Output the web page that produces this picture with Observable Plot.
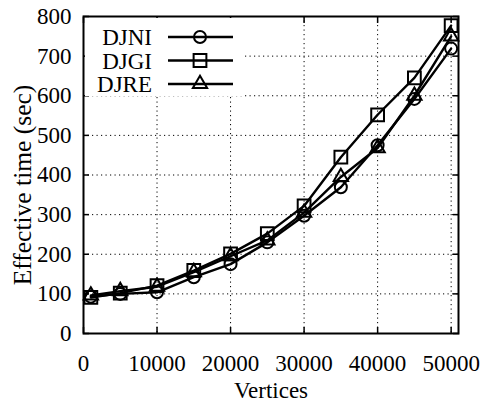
<!DOCTYPE html>
<html><head><meta charset="utf-8">
<script src="https://cdn.jsdelivr.net/npm/d3@7"></script>
<script src="https://cdn.jsdelivr.net/npm/@observablehq/plot@0.6"></script>
<style>
body{margin:0;background:#fff}
svg, svg text{font-family:"Liberation Serif", serif !important}
</style>
</head><body><div id="chart"></div>
<script>
const vertices = [1000, 5000, 10000, 15000, 20000, 25000, 30000, 35000, 40000, 45000, 50000];
const djni = [93, 100, 104, 142, 175, 230, 297, 369, 475, 592, 719];
const djgi = [91, 102, 121, 159, 201, 252, 322, 445, 552, 645, 777];
const djre = [96, 107, 118, 155, 195, 235, 305, 395, 468, 600, 750];
const seriesNames = ["DJNI", "DJGI", "DJRE"];
const seriesSymbols = ["circle", "square", "triangle"];
const xTicks = [0, 10000, 20000, 30000, 40000, 50000];
const yTicks = [0, 100, 200, 300, 400, 500, 600, 700, 800];
const xLabel = "Vertices";
const yLabel = "Effective time (sec)";

const values = [djni, djgi, djre];
const data = [];
seriesNames.forEach((name, s) => {
  vertices.forEach((v, i) => data.push({series: name, x: v, y: values[s][i]}));
});

const symbolR = {circle: 6, square: 7.2, triangle: 5.3};
const fontSize = 23;
const dotMarks = seriesNames.map((name, s) =>
  Plot.dot(data.filter(d => d.series === name), {x: "x", y: "y", symbol: () => seriesSymbols[s], r: symbolR[seriesSymbols[s]], stroke: "black", fill: "none", strokeWidth: 2})
);

const plot = Plot.plot({
  width: 485, height: 403,
  marginLeft: 83, marginRight: 27, marginTop: 16, marginBottom: 70,
  style: {fontSize: fontSize + "px", color: "black", background: "white"},
  x: {domain: [0, 51000], axis: null},
  y: {domain: [0, 800], axis: null},
  symbol: {type: "identity"},
  marks: [
    Plot.gridX(xTicks.filter(d => d > 0), {stroke: "black", strokeOpacity: 1, strokeWidth: 1, strokeDasharray: "1.2,3.3"}),
    Plot.gridY(yTicks.filter(d => d > 0 && d < 800), {stroke: "black", strokeOpacity: 1, strokeWidth: 1, strokeDasharray: "1.2,3.3"}),
    Plot.axisX({anchor: "bottom", ticks: xTicks, tickSize: -6, tickPadding: 27, tickFormat: d => String(d), strokeWidth: 1.5, fontSize: fontSize, label: null}),
    Plot.axisX({anchor: "top", ticks: xTicks, tickSize: -6, tickFormat: () => "", strokeWidth: 1.5, label: null}),
    Plot.axisY({anchor: "left", ticks: yTicks, tickSize: -6, tickPadding: 18, tickFormat: d => String(d), strokeWidth: 1.5, fontSize: fontSize, label: null}),
    Plot.axisY({anchor: "right", ticks: yTicks, tickSize: -6, tickFormat: () => "", strokeWidth: 1.5, label: null}),
    Plot.text([xLabel], {frameAnchor: "bottom", textAnchor: "middle", lineAnchor: "middle", dy: 57, fontSize: fontSize}),
    Plot.text([yLabel], {frameAnchor: "left", textAnchor: "middle", lineAnchor: "middle", rotate: -90, dx: -61, dy: 10, fontSize: 25.5}),
    Plot.line(data, {x: "x", y: "y", z: "series", stroke: "black", strokeWidth: 2.4}),
    ...dotMarks,
    Plot.frame({stroke: "black", strokeWidth: 2})
  ]
});
document.getElementById("chart").appendChild(plot);

// Legend (inside the plot, top-left, white background hides the grid)
const svg = d3.select(plot);
const leg = svg.append("g");
leg.append("rect").attr("x", 85).attr("y", 18).attr("width", 160).attr("height", 78).attr("fill", "white");
const sym = {circle: d3.symbolCircle, square: d3.symbolSquare, triangle: d3.symbolTriangle};
seriesNames.forEach((name, i) => {
  const cy = 37 + i * 23.5;
  const r = symbolR[seriesSymbols[i]];
  leg.append("text").attr("x", 152).attr("y", cy).attr("dy", "0.35em").attr("text-anchor", "end")
    .attr("font-size", fontSize).attr("fill", "black").text(name);
  leg.append("line").attr("x1", 168).attr("x2", 233).attr("y1", cy).attr("y2", cy)
    .attr("stroke", "black").attr("stroke-width", 2.4);
  leg.append("path").attr("transform", `translate(200,${cy})`)
    .attr("d", d3.symbol(sym[seriesSymbols[i]], Math.PI * r * r)())
    .attr("fill", "none").attr("stroke", "black").attr("stroke-width", 2);
});
</script>
</body></html>
